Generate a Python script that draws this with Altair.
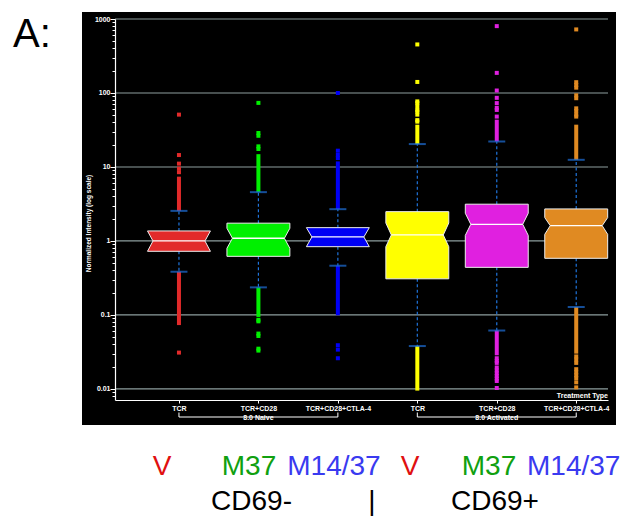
import json
import altair as alt
import pandas as pd

# ---------------- data ----------------
treatments = ["TCR", "TCR+CD28", "TCR+CD28+CTLA-4", "TCR", "TCR+CD28", "TCR+CD28+CTLA-4"]
group_names = ["8.0 Naive", "8.0 Activated"]
group_start = [0, 3]
group_end = [2, 5]
box_colors = ["#e22a2a", "#00f000", "#0000f5", "#ffff00", "#e020e0", "#e08a22"]

q1 = [0.725, 0.62, 0.837, 0.308, 0.44, 0.583]
notch_lo = [0.725, 0.796, 0.837, 0.837, 1.19, 1.23]
median = [1.0, 1.088, 1.133, 1.206, 1.68, 1.61]
notch_hi = [1.366, 1.486, 1.514, 1.75, 2.37, 2.07]
q3 = [1.366, 1.74, 1.514, 2.49, 3.14, 2.71]
whisker_lo = [0.384, 0.236, 0.463, 0.038, 0.0616, 0.128]
whisker_hi = [2.55, 4.57, 2.69, 20.4, 22.1, 12.5]
dense_lo = [0.073, 0.094, 0.099, 0.0095, 0.0285, 0.030]
dense_hi = [7.4, 14.9, 11.9, 37.3, 43.6, 37.3]
outliers_hi = [
    [51, 14.5, 11.1, 9.5, 8.5],
    [73.5, 28.8, 26.4, 19, 17.5],
    [100, 16.6, 14.6, 13.2],
    [453, 141, 77, 73, 66, 59, 56, 51, 43, 41],
    [801, 187, 108, 86, 73, 63, 59, 48],
    [723, 140, 128, 118, 93, 85, 62, 57, 51, 48],
]
outliers_lo = [
    [0.031],
    [0.086, 0.082, 0.056, 0.052, 0.035, 0.033],
    [0.039, 0.034, 0.026],
    [],
    [0.026, 0.024, 0.0225, 0.0195, 0.0178, 0.0163, 0.015, 0.0138, 0.0128, 0.0103],
    [0.0275, 0.025, 0.0225, 0.0185, 0.0168, 0.0153, 0.014, 0.0123, 0.0105],
]
grid_values = [0.01, 0.1, 1, 10, 100, 1000]
y_title = "Normalized Intensity (log scale)"
x_legend_title = "Treatment Type"

bottom_row1 = ["V", "M37", "M14/37", "V", "M37", "M14/37"]
bottom_row1_colors = ["#e01010", "#10a010", "#3a3af0", "#e01010", "#10a010", "#3a3af0"]
bottom_row2 = ["CD69-", "|", "CD69+"]
panel_label = "A:"

# ---------------- layout / style constants ----------------
W, H = 493, 381
FONT = "Liberation Sans"
HW = 0.396   # half box width (x units)
NI = 0.069   # notch indent (x units)
n = len(treatments)
ids = [f"b{k}" for k in range(n)]

XS = alt.Scale(domain=[-0.805, 5.40], nice=False, zero=False)
YS = alt.Scale(type="log", domain=[0.00709, 1000], nice=False)
CS = alt.Scale(domain=ids, range=box_colors)

yticks = []
for e in range(-3, 3):
    for m in range(1, 10):
        v = round(m * 10 ** e, 6)
        if 0.00709 <= v <= 1000:
            yticks.append(v)
yticks.append(1000)

dec_test = "abs(log(datum.value)/LN10 - round(log(datum.value)/LN10)) < 0.0001"

XA = alt.Axis(
    values=list(range(n)),
    labelExpr=json.dumps(treatments) + "[round(datum.value)]",
    grid=False, domainColor="white", domainWidth=1.2, tickColor="white",
    tickSize=3, tickWidth=1, labelColor="white", labelFontSize=7, labelFont=FONT,
    labelFontWeight="bold", labelPadding=1, labelOverlap=False, labelFlush=False,
    zindex=1, title=None,
)
YA = alt.Axis(
    values=yticks,
    labelExpr=f"({dec_test}) ? (datum.value >= 1 ? format(datum.value, 'd') : format(datum.value, '~g')) : ''",
    grid=False, domainColor="white", domainWidth=1.2, tickColor="white",
    tickSize={"condition": {"test": dec_test, "value": 5}, "value": 3},
    tickWidth=1, labelColor="white", labelFontSize=7, labelFont=FONT,
    labelFontWeight="bold", labelPadding=0, labelOverlap=False, labelFlush=False,
    titleColor="white", titleFontSize=6.5, titleFont=FONT, titleFontWeight="bold",
    titleX=-24, titleY=204, titleAngle=270, titleBaseline="bottom",
    zindex=1,
)


def X(f):
    return alt.X(f, type="quantitative", scale=XS, axis=XA, title=None, stack=None)


def Y(f):
    return alt.Y(f, type="quantitative", scale=YS, axis=YA, title=y_title, stack=None)


COL = alt.Color("id:N", scale=CS, legend=None)

# ---------------- tables ----------------
box = pd.DataFrame({
    "id": ids, "c": list(range(n)), "q1": q1, "nlo": notch_lo, "med": median,
    "nhi": notch_hi, "q3": q3, "wlo": whisker_lo, "whi": whisker_hi,
    "dlo": dense_lo, "dhi": dense_hi,
})
box["ml"] = box["c"] - HW + NI
box["mr"] = box["c"] + HW - NI

area_rows = []
for k in range(n):
    pts = [(q1[k], 0), (notch_lo[k], 0), (median[k], NI), (notch_hi[k], 0), (q3[k], 0)]
    for yv, inset in pts:
        area_rows.append({"id": ids[k], "yv": yv, "xa": k - HW + inset, "xb": k + HW - inset})
area_df = pd.DataFrame(area_rows)

out_rows = []
for k in range(n):
    for v in outliers_hi[k] + outliers_lo[k]:
        out_rows.append({"id": ids[k], "c": k, "v": v})
out_df = pd.DataFrame(out_rows)

caps_df = pd.DataFrame({"c": list(range(n)) * 2, "v": whisker_hi + whisker_lo})
grid_df = pd.DataFrame({"v": grid_values})
grp_df = pd.DataFrame({"g": group_names, "s": group_start, "e": group_end,
                       "mid": [(a + b) / 2 for a, b in zip(group_start, group_end)]})
ends_df = pd.DataFrame({"c": group_start + group_end})
one = pd.DataFrame({"a": [0]})

# ---------------- layers ----------------
panel = alt.Chart(one).mark_rect(color="black").encode(
    x=alt.value(-33), x2=alt.value(501), y=alt.value(-7), y2=alt.value(406))

grid = alt.Chart(grid_df).mark_rule(color="#8d9e9e", strokeWidth=1.2).encode(
    y=Y("v"), x=alt.value(0), x2=alt.value(W))

WH = "#1f74dc"
whisk_hi = alt.Chart(box).mark_rule(color=WH, strokeDash=[3, 2.5], strokeWidth=1.2).encode(
    x=X("c"), y=Y("q3"), y2="whi")
whisk_lo = alt.Chart(box).mark_rule(color=WH, strokeDash=[3, 2.5], strokeWidth=1.2).encode(
    x=X("c"), y=Y("q1"), y2="wlo")

dense_up = alt.Chart(box).mark_rule(strokeWidth=4).encode(
    x=X("c"), y=Y("whi"), y2="dhi", color=COL)
dense_dn = alt.Chart(box).mark_rule(strokeWidth=4).encode(
    x=X("c"), y=Y("wlo"), y2="dlo", color=COL)

outl = alt.Chart(out_df).mark_square(size=16, opacity=1).encode(
    x=X("c"), y=Y("v"), color=COL)

caps = alt.Chart(caps_df).mark_tick(orient="horizontal", size=17, thickness=2, color="#1e6fd8").encode(
    x=X("c"), y=Y("v"))

boxes = alt.Chart(area_df).mark_area(orient="horizontal", stroke="#eeeeee", strokeWidth=1,
                                     opacity=1, fillOpacity=1).encode(
    y=Y("yv"), x=X("xa"), x2="xb", color=COL)

meds = alt.Chart(box).mark_rule(color="white", strokeWidth=1.3).encode(
    x=X("ml"), x2="mr", y=Y("med"))

br_h = alt.Chart(grp_df).mark_rule(color="white", strokeWidth=1).encode(
    x=X("s"), x2="e", y=alt.value(398))
br_v = alt.Chart(ends_df).mark_rule(color="white", strokeWidth=1).encode(
    x=X("c"), y=alt.value(393.5), y2=alt.value(398))
br_t = alt.Chart(grp_df).mark_text(color="white", fontSize=7, font=FONT, fontWeight="bold",
                                    baseline="middle").encode(
    x=X("mid"), y=alt.value(399), text="g:N")

tt = alt.Chart(one).mark_text(text=x_legend_title, color="white", fontSize=7, font=FONT,
                              fontWeight="bold", align="right", baseline="alphabetic").encode(
    x=alt.value(W), y=alt.value(378.5))

texts = []
row1_x = [47, 134, 219, 295, 374, 412]
for k, (t, c) in enumerate(zip(bottom_row1, bottom_row1_colors)):
    al = "left" if k == len(bottom_row1) - 1 else "center"
    texts.append(alt.Chart(one).mark_text(text=t, color=c, fontSize=28, font=FONT, align=al,
                                          baseline="alphabetic").encode(
        x=alt.value(row1_x[k]), y=alt.value(456)))
row2_x = [136.5, 257, 380]
for k, t in enumerate(bottom_row2):
    texts.append(alt.Chart(one).mark_text(text=t, color="black", fontSize=28, font=FONT, align="center",
                                          baseline="alphabetic").encode(
        x=alt.value(row2_x[k]), y=alt.value(491)))
texts.append(alt.Chart(one).mark_text(text=panel_label, color="black", fontSize=40, font=FONT,
                                      align="left", baseline="alphabetic").encode(
    x=alt.value(-102), y=alt.value(28)))

chart = alt.layer(
    panel, grid, whisk_hi, whisk_lo, dense_up, dense_dn, outl, caps, boxes, meds,
    br_h, br_v, br_t, tt, *texts
).properties(
    width=W, height=H,
    padding={"left": 115, "top": 19, "right": 12, "bottom": 116},
    autosize=alt.AutoSizeParams(type="none"),
    background="white",
).configure_view(stroke=None)

chart.save("out.html", embed_options={"renderer": "svg", "actions": False})
